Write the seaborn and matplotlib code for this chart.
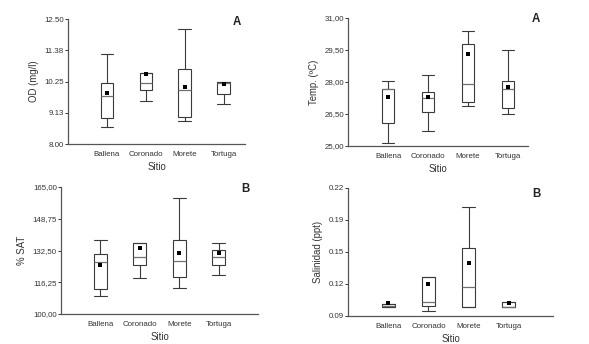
#!/usr/bin/env python3
"""
Boxplots por sitio: OD, temperatura, % saturacion y salinidad
"""
import numpy as np
import pandas as pd
import matplotlib
matplotlib.use('Agg')
import matplotlib.pyplot as plt
import seaborn as sns

sns.set_style('ticks')
plt.rcParams['font.family'] = ['Liberation Sans', 'DejaVu Sans']

# Sitios
SITIOS = ['Ballena', 'Coronado', 'Morete', 'Tortuga']

# OD (mg/l): min, Q1, mediana, Q3, max, promedio
OD_MIN = [8.60, 9.54, 8.84, 9.45]
OD_Q1 = [8.92, 9.94, 8.98, 9.79]
OD_MED = [9.74, 10.18, 9.93, 10.18]
OD_Q3 = [10.18, 10.54, 10.69, 10.22]
OD_MAX = [11.24, 10.54, 12.13, 10.22]
OD_MEAN = [9.85, 10.52, 10.05, 10.17]
OD_TICKS = ['8.00', '9.13', '10.25', '11.38', '12.50']

# Temperatura (ºC)
TEMP_MIN = [25.14, 25.72, 26.88, 26.48]
TEMP_Q1 = [26.10, 26.60, 27.04, 26.76]
TEMP_MED = [27.65, 27.23, 27.92, 27.65]
TEMP_Q3 = [27.65, 27.51, 29.77, 28.06]
TEMP_MAX = [28.06, 28.33, 30.39, 29.48]
TEMP_MEAN = [27.32, 27.32, 29.30, 27.76]
TEMP_TICKS = ['25,00', '26,50', '28,00', '29,50', '31,00']

# % saturacion
SAT_MIN = [109.2, 118.5, 113.3, 120.2]
SAT_Q1 = [112.8, 125.0, 118.7, 125.0]
SAT_MED = [126.5, 129.4, 127.1, 129.4]
SAT_Q3 = [130.6, 136.1, 137.8, 133.0]
SAT_MAX = [138.1, 136.1, 159.4, 136.4]
SAT_MEAN = [125.0, 134.0, 131.0, 131.0]
SAT_TICKS = ['100,00', '116,25', '132,50', '148,75', '165,00']

# Salinidad (ppt)
SAL_MIN = [0.0994, 0.0946, 0.0994, 0.0994]
SAL_Q1 = [0.0994, 0.1000, 0.0994, 0.0994]
SAL_MED = [0.0998, 0.1047, 0.1199, 0.0994]
SAL_Q3 = [0.1021, 0.1297, 0.1590, 0.1047]
SAL_MAX = [0.1021, 0.1297, 0.2005, 0.1047]
SAL_MEAN = [0.1034, 0.1230, 0.1439, 0.1034]
SAL_TICKS = ['0.09', '0.12', '0.15', '0.19', '0.22']

EDGE = '#3a3a3a'
TXT = '#333333'


def panel(ax, mins, q1, med, q3, maxs, means, ylim, ticks, ylabel,
          letter, letter_xy, xlim):
    # 5 valores por sitio -> percentiles 25/50/75 exactos
    rows = []
    for s, a, b, c, d, e in zip(SITIOS, mins, q1, med, q3, maxs):
        for v in (a, b, c, d, e):
            rows.append({'Sitio': s, 'valor': v})
    df = pd.DataFrame(rows)

    sns.boxplot(data=df, x='Sitio', y='valor', order=SITIOS, whis=np.inf,
                width=0.32, color='white', linewidth=0.8, linecolor=EDGE,
                capwidths=0.32,
                medianprops={'color': '#707070', 'linewidth': 0.9},
                ax=ax)
    sns.stripplot(x=SITIOS, y=means, order=SITIOS, jitter=False, marker='s',
                  size=2.2, color='black', linewidth=0, ax=ax)

    ax.set_ylim(ylim)
    ax.set_xlim(xlim)
    ax.set_yticks(np.linspace(ylim[0], ylim[1], 5))
    ax.set_yticklabels(ticks)
    ax.tick_params(axis='y', length=2, width=0.7, pad=1, labelsize=5.7, colors=TXT)
    ax.tick_params(axis='x', length=0, pad=5, labelsize=5.7, colors=TXT)
    ax.set_xlabel('Sitio', fontsize=6.9, color=TXT, labelpad=3)
    ax.set_ylabel(ylabel, fontsize=6.9, color=TXT, labelpad=4)
    for sp in ('top', 'right'):
        ax.spines[sp].set_visible(False)
    for sp in ('left', 'bottom'):
        ax.spines[sp].set_color('#555555')
        ax.spines[sp].set_linewidth(0.9)
    ax.text(letter_xy[0], letter_xy[1], letter, transform=ax.transAxes,
            ha='center', va='center', fontsize=8.3, fontweight='bold',
            color='#222222', clip_on=False)


def main():
    W, H = 589, 344
    fig = plt.figure(figsize=(W / 100, H / 100), dpi=100)

    def box(l, r, t, b):
        return [l / W, 1 - b / H, (r - l) / W, (b - t) / H]

    ax1 = fig.add_axes(box(68, 245, 19, 144))
    ax2 = fig.add_axes(box(348, 528, 18, 146))
    ax3 = fig.add_axes(box(61, 258, 187, 314))
    ax4 = fig.add_axes(box(348, 553, 188, 316))

    panel(ax1, OD_MIN, OD_Q1, OD_MED, OD_Q3, OD_MAX, OD_MEAN,
          (8.0, 12.5), OD_TICKS, 'OD (mg/l)', 'A', (0.955, 0.976), (-1, 3.55))
    panel(ax2, TEMP_MIN, TEMP_Q1, TEMP_MED, TEMP_Q3, TEMP_MAX, TEMP_MEAN,
          (25.0, 31.0), TEMP_TICKS, 'Temp. (ºC)', 'A', (1.044, 0.99), (-1, 3.5))
    panel(ax3, SAT_MIN, SAT_Q1, SAT_MED, SAT_Q3, SAT_MAX, SAT_MEAN,
          (100.0, 165.0), SAT_TICKS, '% SAT', 'B', (0.934, 0.984), (-1, 4.0))
    panel(ax4, SAL_MIN, SAL_Q1, SAL_MED, SAL_Q3, SAL_MAX, SAL_MEAN,
          (0.09, 0.22), SAL_TICKS, 'Salinidad (ppt)', 'B', (0.917, 0.953), (-1, 4.1))

    plt.savefig('out.png', dpi=100)
    plt.close()


if __name__ == '__main__':
    main()
